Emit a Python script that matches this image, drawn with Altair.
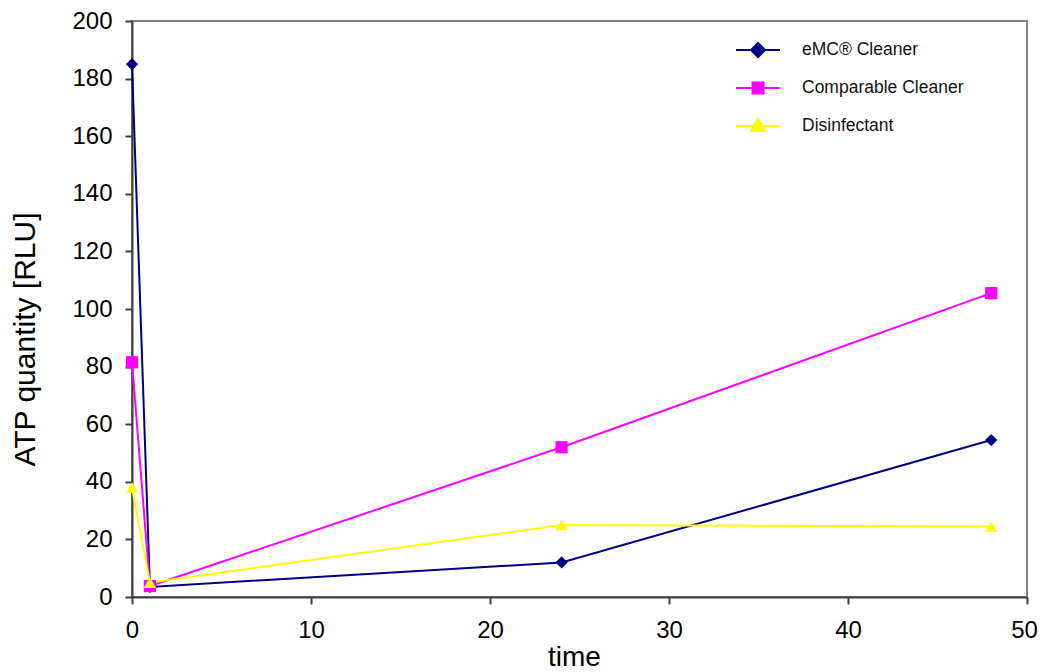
import altair as alt
import pandas as pd

times = [0, 1, 24, 48]
series_names = ["eMC® Cleaner", "Comparable Cleaner", "Disinfectant"]
emc = [185, 3.5, 12, 54.5]
comparable = [81.5, 3.8, 52, 105.5]
disinfectant = [38, 5, 25, 24.5]
colors = ["#000080", "#FF00FF", "#FFFF00"]
marker_shapes = ["diamond", "square", "triangle-up"]
x_ticks = [0, 10, 20, 30, 40, 50]
y_ticks = [0, 20, 40, 60, 80, 100, 120, 140, 160, 180, 200]

rows = []
for name, vals in zip(series_names, [emc, comparable, disinfectant]):
    for t, v in zip(times, vals):
        rows.append({"time": t, "value": v, "series": name})
df = pd.DataFrame(rows)

FONT = "Liberation Sans"

x = alt.X("time:Q", scale=alt.Scale(domain=[0, 50], nice=False),
          axis=alt.Axis(values=x_ticks, title="time", grid=False, tickSize=7,
                        labelFontSize=24, titleFontSize=28, titleFontWeight="normal",
                        labelPadding=14, titlePadding=1, titleX=442, domainColor="#404040",
                        domainWidth=2, tickColor="#404040", tickWidth=2,
                        labelOffset=alt.ConditionalAxisNumber(
                            condition={"test": "datum.value == 50", "value": -3}, value=0),
                        labelColor="black", titleColor="black", labelFlush=False))
y = alt.Y("value:Q", scale=alt.Scale(domain=[0, 200], nice=False),
          axis=alt.Axis(values=y_ticks, title="ATP quantity [RLU]", grid=False, tickSize=7,
                        labelFontSize=24, titleFontSize=30, titleFontWeight="normal",
                        labelPadding=13, titlePadding=31, titleY=318, domainColor="#404040",
                        domainWidth=2, tickColor="#404040", tickWidth=2,
                        labelColor="black", titleColor="black", labelFlush=False))

layers = []
for name, shp, col in zip(series_names, marker_shapes, colors):
    sub = alt.Chart(df).transform_filter(alt.datum.series == name)
    layers.append(sub.mark_line(strokeWidth=2, color=col).encode(x=x, y=y))
for name, shp, col in zip(series_names, marker_shapes, colors):
    sub = alt.Chart(df).transform_filter(alt.datum.series == name)
    layers.append(sub.mark_point(filled=True, opacity=1, size=150, shape=shp, color=col)
                  .encode(x=x, y=y))

legend_paths = [
    "M-2.2,0L2.2,0M0,-0.7L0.7,0L0,0.7L-0.7,0Z",
    "M-2.2,0L2.2,0M-0.55,-0.55L0.55,-0.55L0.55,0.55L-0.55,0.55Z",
    "M-2.2,0L2.2,0M0,-0.75L0.7,0.5L-0.7,0.5Z",
]

leg = alt.Legend(title=None, orient="none", legendX=615, legendY=18,
                 symbolSize=400, symbolStrokeWidth=2, symbolOpacity=1,
                 labelFontSize=17.5, labelFont=FONT, labelColor="#111111",
                 labelOffset=33, rowPadding=16, padding=0, labelLimit=400)

legend_scale = alt.Scale(domain=series_names, range=colors)
legend_layer = alt.Chart(df).mark_point(filled=True, opacity=0).encode(
    x=x, y=y,
    color=alt.Color("series:N", scale=legend_scale, legend=leg),
    stroke=alt.Stroke("series:N", scale=legend_scale, legend=leg),
    shape=alt.Shape("series:N", scale=alt.Scale(domain=series_names, range=legend_paths),
                    legend=leg),
)
layers.append(legend_layer)

chart = alt.layer(*layers).properties(
    width=895, height=576,
    autosize=alt.AutoSizeParams(type="none"),
    padding={"left": 124, "top": 13, "right": 11, "bottom": 75},
).configure(font=FONT).configure_view(stroke="#808080", strokeWidth=2)

chart.save("out.html", embed_options={"renderer": "svg", "actions": False})
